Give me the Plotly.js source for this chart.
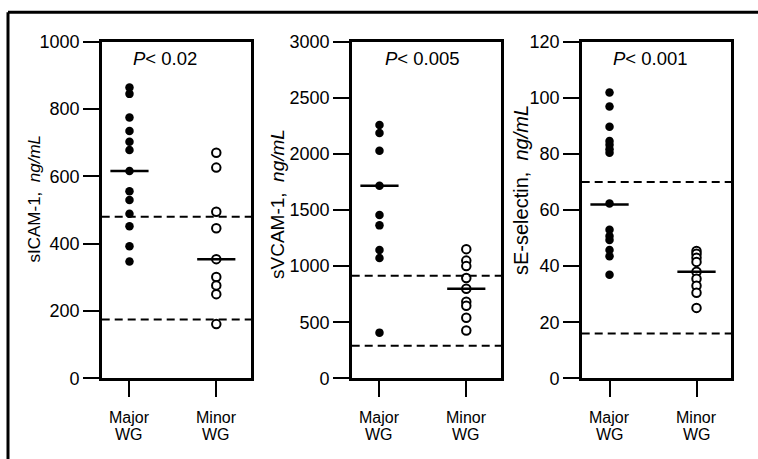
<!DOCTYPE html>
<html>
<head>
<meta charset="utf-8">
<script src="https://cdn.plot.ly/plotly-3.0.1.min.js"></script>
<style>html,body{margin:0;padding:0;background:#fff;}#chart{width:758px;height:459px;}</style>
</head>
<body>
<div id="chart"></div>
<script>
// ---- data ----
const groupLine1 = ["Major", "Minor"];
const groupLine2 = ["WG", "WG"];

const icamMajor = [864, 845, 775, 735, 703, 678, 616, 556, 530, 489, 452, 392, 347];
const icamMinor = [670, 626, 495, 446, 354, 301, 276, 250, 161];
const icamMedians = [616, 354];
const icamRef = [480, 175];

const vcamMajor = [2257, 2186, 2029, 1717, 1455, 1363, 1143, 1072, 407];
const vcamMinor = [1151, 1049, 1000, 894, 798, 683, 646, 539, 426];
const vcamMedians = [1717, 798];
const vcamRef = [915, 290];

const eselMajor = [101.9, 96.9, 89.7, 84.6, 83.3, 81.7, 80.4, 62.3, 53.0, 50.7, 49.3, 45.7, 43.5, 36.9];
const eselMinor = [45.4, 44.4, 43.0, 41.5, 38.0, 35.5, 33.0, 30.5, 25.1];
const eselMedians = [62, 38];
const eselRef = [70, 16];

const yTitles = ["sICAM-1,\u00a0\u00a0<i>ng/mL</i>", "sVCAM-1,\u00a0\u00a0<i>ng/mL</i>", "sE-selectin,\u00a0\u00a0<i>ng/mL</i>"];
const pLabels = ["<i>P</i>< 0.02", "<i>P</i>< 0.005", "<i>P</i>< 0.001"];
const yTicks = [[0, 200, 400, 600, 800, 1000], [0, 500, 1000, 1500, 2000, 2500, 3000], [0, 20, 40, 60, 80, 100, 120]];
const yRanges = [[0, 1000], [0, 3000], [0, 120]];

// ---- layout helpers ----
const W = 758, H = 459;
const panels = [
  {major: icamMajor, minor: icamMinor, med: icamMedians, ref: icamRef, left: 101.7, right: 251, titleX: 34, titleY: 198.5, titleSize: 17, pX: 165},
  {major: vcamMajor, minor: vcamMinor, med: vcamMedians, ref: vcamRef, left: 351.7, right: 501, titleX: 277, titleY: 204, titleSize: 19, pX: 422},
  {major: eselMajor, minor: eselMinor, med: eselMedians, ref: eselRef, left: 581.7, right: 731.3, titleX: 521, titleY: 190, titleSize: 20, pX: 650}
];
const yDom = [1 - 378.3 / H, 1 - 41.7 / H];
const FONT = "Liberation Sans, Arial, Helvetica, sans-serif";

const traces = [];
const shapes = [];
const annotations = [];
const layout = {
  width: W, height: H,
  margin: {l: 0, r: 0, t: 0, b: 0},
  paper_bgcolor: "#fff", plot_bgcolor: "#fff",
  showlegend: false,
  font: {family: FONT, color: "#000"}
};

panels.forEach((p, i) => {
  const sfx = i === 0 ? "" : String(i + 1);
  const xa = "x" + sfx, ya = "y" + sfx;
  traces.push({
    type: "scatter", mode: "markers", xaxis: xa, yaxis: ya,
    x: p.major.map(() => 0), y: p.major,
    marker: {symbol: "circle", size: 8.5, color: "#000", line: {width: 0}},
    hoverinfo: "y"
  });
  traces.push({
    type: "scatter", mode: "markers", xaxis: xa, yaxis: ya,
    x: p.minor.map(() => 1), y: p.minor,
    marker: {symbol: "circle", size: 8.5, color: "#fff", line: {width: 2, color: "#000"}},
    hoverinfo: "y"
  });
  layout["xaxis" + sfx] = {
    domain: [p.left / W, p.right / W], anchor: ya,
    range: [-0.32, 1.4], tickvals: [0, 1], showticklabels: false,
    showline: true, mirror: true, linewidth: 2.5, linecolor: "#000",
    ticks: "outside", ticklen: 16, tickwidth: 2, tickcolor: "#000",
    showgrid: false, zeroline: false, fixedrange: true
  };
  layout["yaxis" + sfx] = {
    domain: yDom, anchor: xa,
    range: yRanges[i], tickvals: yTicks[i],
    showline: true, mirror: true, linewidth: 2.5, linecolor: "#000",
    ticks: "outside", ticklen: 16, tickwidth: 2, tickcolor: "#000",
    showgrid: false, zeroline: false, fixedrange: true,
    tickfont: {family: FONT, size: 18, color: "#000"}
  };
  // category labels (two lines each)
  groupLine1.forEach((t, g) => {
    annotations.push({
      xref: xa, yref: "paper", x: g, y: 1 - 417.5 / H, xanchor: "center", yanchor: "middle",
      showarrow: false, text: t, font: {family: FONT, size: 16, color: "#000"}
    });
    annotations.push({
      xref: xa, yref: "paper", x: g, y: 1 - 434.5 / H, xanchor: "center", yanchor: "middle",
      showarrow: false, text: groupLine2[g], font: {family: FONT, size: 16, color: "#000"}
    });
  });
  // reference (dashed) lines
  p.ref.forEach(v => shapes.push({
    type: "line", xref: xa + " domain", yref: ya, x0: 0, x1: 1, y0: v, y1: v,
    line: {color: "#000", width: 2, dash: "8px,5px"}
  }));
  // medians
  p.med.forEach((v, g) => shapes.push({
    type: "line", xref: xa, yref: ya, x0: g - 0.22, x1: g + 0.22, y0: v, y1: v,
    line: {color: "#000", width: 2.5}
  }));
  annotations.push({
    xref: "paper", yref: "paper", x: p.pX / W, y: 1 - 58 / H,
    xanchor: "center", yanchor: "middle", showarrow: false,
    text: pLabels[i], font: {family: FONT, size: 18.5, color: "#000"}
  });
  annotations.push({
    xref: "paper", yref: "paper", x: p.titleX / W, y: 1 - p.titleY / H,
    xanchor: "center", yanchor: "middle", showarrow: false, textangle: -90,
    text: yTitles[i], font: {family: FONT, size: p.titleSize, color: "#000"}
  });
});

// outer frame (top and left edges)
shapes.push({type: "line", xref: "paper", yref: "paper", x0: 8 / W, x1: 1.01, y0: 1 - 12.3 / H, y1: 1 - 12.3 / H, line: {color: "#000", width: 3}});
shapes.push({type: "line", xref: "paper", yref: "paper", x0: 8 / W, x1: 8 / W, y0: 1 - 12.3 / H, y1: -0.05, line: {color: "#000", width: 3}});

layout.shapes = shapes;
layout.annotations = annotations;

Plotly.newPlot("chart", traces, layout, {displayModeBar: false, staticPlot: true});
</script>
</body>
</html>
